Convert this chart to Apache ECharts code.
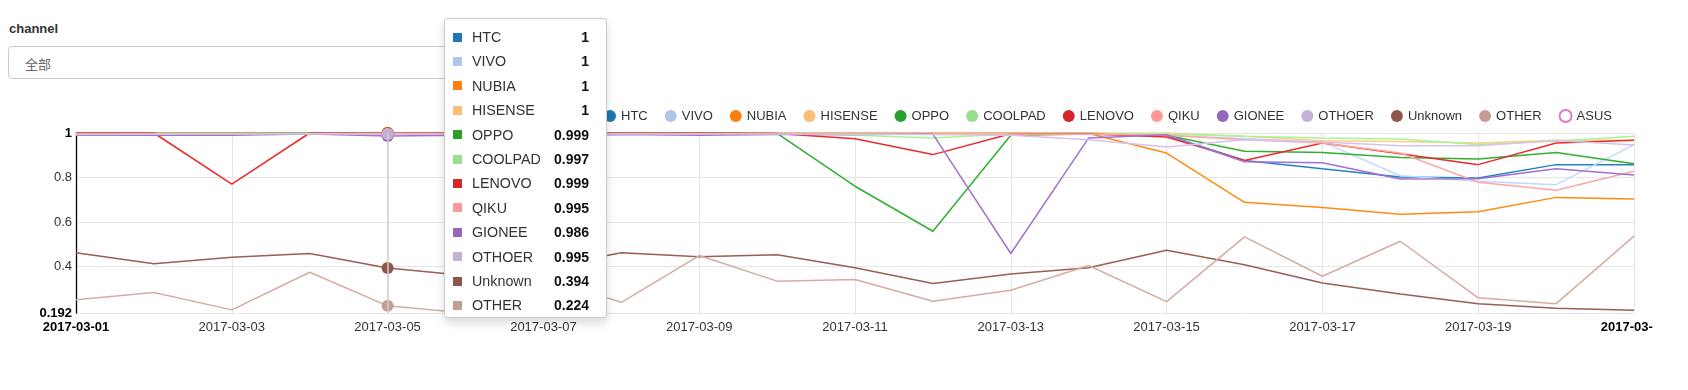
<!DOCTYPE html>
<html>
<head>
<meta charset="utf-8">
<script src="https://cdn.jsdelivr.net/npm/echarts@6/dist/echarts.min.js"></script>
<style>
  html, body { margin: 0; padding: 0; background: #fff; width: 1688px; height: 390px; overflow: hidden; }
  #lbl { position: absolute; left: 9px; top: 21px; font: bold 13px "Liberation Sans", Arial, sans-serif; color: #333; }
  #sel { position: absolute; left: 8px; top: 46px; width: 460px; height: 33px; box-sizing: border-box; border: 1px solid #ccc; border-radius: 4px; background: #fff; }
  #sel span { position: absolute; left: 16px; top: 7px; font: 13px "Noto Sans CJK SC", sans-serif; color: #666; }
  #wrap { position: absolute; left: 0; top: 0; width: 1653px; height: 390px; overflow: hidden; }
  #chart { position: absolute; left: 0; top: 0; width: 1688px; height: 390px; }
</style>
</head>
<body>
<div id="lbl">channel</div>
<div id="sel"><span>全部</span></div>
<div id="wrap"><div id="chart"></div></div>
<script>
const dates = ['2017-03-01','2017-03-02','2017-03-03','2017-03-04','2017-03-05','2017-03-06','2017-03-07','2017-03-08','2017-03-09','2017-03-10','2017-03-11','2017-03-12','2017-03-13','2017-03-14','2017-03-15','2017-03-16','2017-03-17','2017-03-18','2017-03-19','2017-03-20','2017-03-21'];
const seriesNames = ['HTC','VIVO','NUBIA','HISENSE','OPPO','COOLPAD','LENOVO','QIKU','GIONEE','OTHOER','Unknown','OTHER','ASUS'];
const seriesColors = ['#1f77b4','#aec7e8','#ff7f0e','#ffbb78','#2ca02c','#98df8a','#d62728','#ff9896','#9467bd','#c5b0d5','#8c564b','#c49c94','#e377c2'];
const HTC     = [1,1,1,1,1,1,1,1,1,1,1,1,1,1,0.99,0.877,0.839,0.802,0.798,0.858,0.858];
const VIVO    = [1,1,1,1,1,1,1,1,1,1,1,1,1,0.995,0.99,0.975,0.96,0.808,0.783,0.768,0.948];
const NUBIA   = [1,1,1,1,1,1,1,1,1,1,1,1,1,0.998,0.91,0.689,0.666,0.635,0.646,0.711,0.704];
const HISENSE = [1,1,1,1,1,1,1,1,1,1,1,1,1,1,1,0.985,0.965,0.962,0.955,0.967,0.967];
const OPPO    = [0.999,0.999,0.999,1,0.999,0.999,0.999,0.999,0.999,0.998,0.761,0.559,0.99,0.996,0.99,0.918,0.912,0.89,0.883,0.912,0.862];
const COOLPAD = [0.998,0.998,0.997,0.998,0.997,0.998,0.997,0.998,0.997,0.996,0.99,0.978,0.995,0.996,0.995,0.985,0.978,0.973,0.948,0.963,0.985];
const LENOVO  = [1,1,0.77,1,0.999,1,1,1,1,0.998,0.974,0.903,0.997,0.995,0.982,0.877,0.955,0.907,0.858,0.955,0.967];
const QIKU    = [0.996,0.996,0.995,0.997,0.995,0.996,0.995,0.996,0.995,0.996,0.995,0.995,0.995,0.994,0.99,0.97,0.955,0.91,0.779,0.743,0.828];
const GIONEE  = [0.99,0.99,0.99,0.995,0.986,0.99,0.99,0.993,0.99,0.993,0.993,0.995,0.459,0.978,0.992,0.871,0.866,0.794,0.795,0.839,0.812];
const OTHOER  = [0.993,0.994,0.995,0.997,0.995,0.996,0.995,0.996,0.995,0.995,0.994,0.993,0.99,0.97,0.937,0.97,0.96,0.943,0.943,0.966,0.946];
const Unknown = [0.462,0.413,0.442,0.459,0.394,0.36,0.395,0.462,0.444,0.453,0.395,0.324,0.367,0.395,0.474,0.409,0.327,0.277,0.233,0.213,0.204];
const OTHER   = [0.252,0.284,0.206,0.375,0.224,0.192,0.35,0.24,0.45,0.335,0.342,0.245,0.294,0.405,0.243,0.534,0.357,0.514,0.26,0.234,0.537];
const ASUS    = [];
const yTicks = [0.192, 0.4, 0.6, 0.8, 1];
const yMin = 0.192, yMax = 1;
const hoverIndex = 4;

const seriesData = [HTC,VIVO,NUBIA,HISENSE,OPPO,COOLPAD,LENOVO,QIKU,GIONEE,OTHOER,Unknown,OTHER,ASUS];
const FONT = '"Liberation Sans", Arial, sans-serif';

const chart = echarts.init(document.getElementById('chart'), null, {renderer: 'canvas'});
const option = {
  animation: false,
  color: seriesColors,
  textStyle: { fontFamily: FONT },
  grid: { left: 76, top: 133, width: 1558, height: 180, containLabel: false },
  legend: {
    left: 604, top: 109, padding: 0, itemGap: 17, itemWidth: 12, itemHeight: 12,
    selectedMode: false,
    textStyle: { fontSize: 13, color: '#333', fontFamily: FONT },
    data: seriesNames.map(n => ({ name: n, icon: n === 'ASUS' ? 'emptyCircle' : 'circle' }))
  },
  tooltip: {
    trigger: 'axis',
    triggerOn: 'none',
    alwaysShowContent: true,
    transitionDuration: 0,
    confine: false,
    padding: 0,
    borderWidth: 1,
    borderColor: 'rgba(0,0,0,0.2)',
    backgroundColor: '#fff',
    textStyle: { fontSize: 14, fontFamily: FONT, color: '#333' },
    extraCssText: 'box-shadow:0 5px 10px rgba(0,0,0,0.15);border-radius:4px;width:163px;height:300px;box-sizing:border-box;',
    position: function () { return [444, 18]; },
    axisPointer: { type: 'line', label: { show: false }, lineStyle: { color: '#d0d0d0', width: 1.5, type: 'solid' } },
    formatter: function (params) {
      const rows = params.filter(p => p.value !== undefined && p.value !== null && p.value !== '-').map(p =>
        '<div style="display:flex;align-items:center;height:24.4px;line-height:24.4px">' +
        '<span style="display:inline-block;width:9px;height:9px;background:' + p.color + ';margin-left:8px"></span>' +
        '<span style="margin-left:10px;color:#333;flex:1;font-size:14.3px">' + p.seriesName + '</span>' +
        '<span style="font-weight:bold;color:#111;margin-right:17px">' + (+Number(p.value).toFixed(3)) + '</span></div>');
      return '<div style="padding-top:6px">' + rows.join('') + '</div>';
    }
  },
  xAxis: {
    type: 'category',
    data: dates,
    boundaryGap: false,
    axisLine: { show: false },
    axisTick: { show: false },
    axisLabel: {
      interval: 1, margin: 8, fontSize: 13, color: '#333', fontFamily: FONT,
      formatter: function (v, i) { return (i === 0 || i === dates.length - 1) ? '{b|' + v + '}' : v; },
      rich: { b: { fontWeight: 'bold', color: '#000', fontSize: 13, fontFamily: FONT } }
    },
    splitLine: { show: true, interval: 1, lineStyle: { color: '#e6e6e6', width: 1 } }
  },
  yAxis: {
    type: 'value',
    min: yMin, max: yMax,
    axisLine: { show: true, lineStyle: { color: '#000', width: 1.3 } },
    axisTick: { show: false, customValues: yTicks },
    axisLabel: {
      customValues: yTicks, margin: 4, fontSize: 13, color: '#333', fontFamily: FONT,
      formatter: function (v) { return (v === yMax || Math.abs(v - yMin) < 1e-9) ? '{b|' + v + '}' : String(v); },
      rich: { b: { fontWeight: 'bold', color: '#000', fontSize: 13, fontFamily: FONT } }
    },
    splitLine: { show: true, lineStyle: { color: '#e6e6e6', width: 1 } }
  },
  series: seriesNames.map((n, k) => ({
    name: n,
    type: 'line',
    data: seriesData[k],
    showSymbol: false,
    symbol: 'circle',
    symbolSize: 12,
    lineStyle: { width: 1.5 },
    emphasis: { scale: false, focus: 'none', lineStyle: { width: 1.5 } },
    z: 2
  }))
};
chart.setOption(option);
chart.dispatchAction({ type: 'showTip', seriesIndex: 0, dataIndex: hoverIndex });
</script>
</body>
</html>
